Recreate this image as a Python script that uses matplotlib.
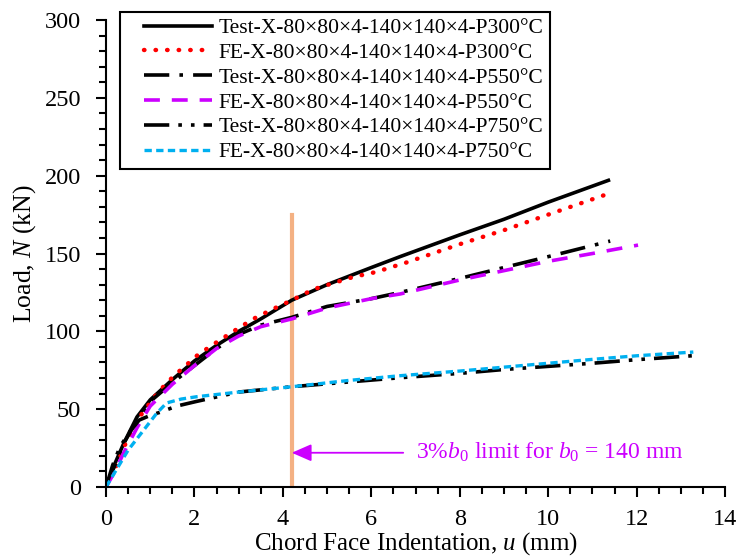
import matplotlib
matplotlib.use("Agg")
import matplotlib.pyplot as plt
from matplotlib.legend_handler import HandlerLine2D

plt.rcParams['font.family'] = ['Liberation Serif', 'DejaVu Serif']
plt.rcParams['mathtext.fontset'] = 'custom'
plt.rcParams['mathtext.rm'] = 'Liberation Serif'
plt.rcParams['mathtext.it'] = 'Liberation Serif:italic'

# Test 300 °C
u_t300 = [0, 0.2, 0.4, 0.7, 1.0, 1.5, 2.0, 2.5, 3.0, 3.5, 4.2, 5.0, 6.0, 6.65, 8.0, 9.0, 10.0, 11.36]
n_t300 = [0, 15, 28, 45, 56, 69, 81, 91, 100, 108, 120, 130, 141, 148, 162, 172, 183, 197]
# FE 300 °C
u_f300 = [0, 0.22, 0.41, 0.73, 1.18, 1.52, 2.08, 2.5, 2.88, 3.33, 3.75, 4.2, 4.69, 5.14, 5.6, 6.09, 6.54, 6.77, 8.0, 9.0, 10.0, 11.47]
n_f300 = [0, 13, 26, 44, 61, 71, 85, 93, 100, 108, 114, 120, 127, 131, 135, 138, 142, 144, 156, 165, 175, 189.5]
# Test 550 °C
u_t550 = [0, 0.2, 0.4, 0.7, 1.0, 1.5, 2.0, 2.5, 3.0, 3.5, 4.2, 5.0, 6.0, 6.65, 8.0, 9.0, 10.0, 11.4]
n_t550 = [0, 14, 28, 43, 55, 67, 78, 89, 98, 104, 109, 116, 121, 125, 134, 141, 148, 158]
# FE 550 °C
u_f550 = [0, 0.2, 0.4, 0.7, 1.0, 1.5, 2.0, 2.5, 3.0, 3.5, 4.2, 5.0, 6.0, 6.65, 8.0, 9.0, 10.0, 11.0, 12.03]
n_f550 = [0, 10, 22, 38, 52, 66, 78, 89, 97, 103, 108, 115, 121, 124, 133, 139, 145, 150, 155.4]
# Test 750 °C
u_t750 = [0, 0.15, 0.32, 0.55, 0.75, 1.0, 1.22, 1.6, 2.05, 3.0, 4.2, 5.5, 6.65, 8.0, 9.0, 10.0, 11.0, 12.0, 13.25]
n_t750 = [0, 14, 26, 36, 43, 46, 48, 52, 55, 61, 64.4, 67.5, 70.2, 73, 75.5, 77.5, 79.5, 81.8, 84.3]
# FE 750 °C
u_f750 = [0, 0.5, 1.15, 1.37, 1.7, 2.05, 3.0, 4.2, 5.5, 6.65, 8.0, 9.0, 10.0, 11.0, 12.0, 13.28]
n_f750 = [0, 23.7, 47.5, 54, 56.5, 58, 61, 64.4, 68.5, 71.5, 74.5, 77, 79.5, 82, 84.3, 86.7]

labels = ['Test-X-80×80×4-140×140×4-P300°C', 'FE-X-80×80×4-140×140×4-P300°C',
          'Test-X-80×80×4-140×140×4-P550°C', 'FE-X-80×80×4-140×140×4-P550°C',
          'Test-X-80×80×4-140×140×4-P750°C', 'FE-X-80×80×4-140×140×4-P750°C']

limit_u = 4.2


class HandlerInset(HandlerLine2D):
    # deja un margen a la izquierda de la muestra, como en Excel
    def create_artists(self, legend, orig_handle, xdescent, ydescent, width, height, fontsize, trans):
        inset = 13
        return super().create_artists(legend, orig_handle, xdescent - inset, ydescent,
                                      width - inset, height, fontsize, trans)


fig = plt.figure(figsize=(7.43, 5.59), dpi=100)
ax = fig.add_axes([0.1427, 0.1288, 0.8333, 0.8354])

ax.plot(u_t300, n_t300, color='black', lw=2.6, label=labels[0])
ax.plot(u_f300, n_f300, color='red', lw=3.2, ls=(0, (0.1, 2.5)), dash_capstyle='round', label=labels[1])
ax.plot(u_t550, n_t550, color='black', lw=2.6, ls=(0, (7, 2.8, 1, 2.8)), label=labels[2])
ax.plot(u_f550, n_f550, color='#CC00FF', lw=2.6, ls=(0, (4.4, 3.3)), label=labels[3])
ax.plot(u_t750, n_t750, color='black', lw=2.6, ls=(0, (7, 2.5, 1, 2.5, 1, 2.5)), label=labels[4])
ax.plot(u_f750, n_f750, color='#00B0F0', lw=2.4, ls=(0, (2.2, 1.3)), label=labels[5])

# limite 3% b0
ax.plot([limit_u, limit_u], [0, 175], color='#F4B183', lw=3, zorder=1)
ax.annotate('', xy=(limit_u, 22), xytext=(6.72, 22),
            arrowprops=dict(arrowstyle='-|>,head_length=0.8,head_width=0.35', mutation_scale=15,
                            color='#CC00FF', lw=1.3, shrinkA=0, shrinkB=0))
ax.text(7.0, 22, r'3%$b_0$ limit for $b_0$ = 140 mm', color='#CC00FF',
        fontsize=17, va='center', ha='left')

ax.set_xlim(0, 14)
ax.set_ylim(0, 300)
ax.set_xticks(range(0, 15, 2))
ax.set_yticks(range(0, 301, 50))
ax.set_xticks([x * 0.5 for x in range(29)], minor=True)
ax.set_yticks(range(0, 301, 10), minor=True)
ax.tick_params(which='both', direction='out', width=1.5, labelsize=17.5)
ax.tick_params(axis='x', which='major', length=7, pad=9)
ax.tick_params(axis='y', which='major', length=7, pad=11)
ax.tick_params(which='minor', length=5)
ax.spines['top'].set_visible(False)
ax.spines['right'].set_visible(False)
ax.spines['left'].set_linewidth(1.5)
ax.spines['bottom'].set_linewidth(1.5)

ax.set_xlabel(r'Chord Face Indentation, $u$ (mm)', fontsize=18, labelpad=0)
ax.set_ylabel(r'Load, $N$ (kN)', fontsize=18.5, labelpad=5)

leg = ax.legend(loc='upper left', bbox_to_anchor=(0.022, 1.018), fontsize=15.5,
                frameon=True, fancybox=False, edgecolor='black', framealpha=1,
                handlelength=4.0, handletextpad=0.3, labelspacing=0.22,
                borderpad=0.3, borderaxespad=0,
                handler_map={ln: HandlerInset() for ln in ax.get_lines()[:6]})
leg.get_frame().set_linewidth(1.5)

fig.savefig('out.png', dpi=100)
